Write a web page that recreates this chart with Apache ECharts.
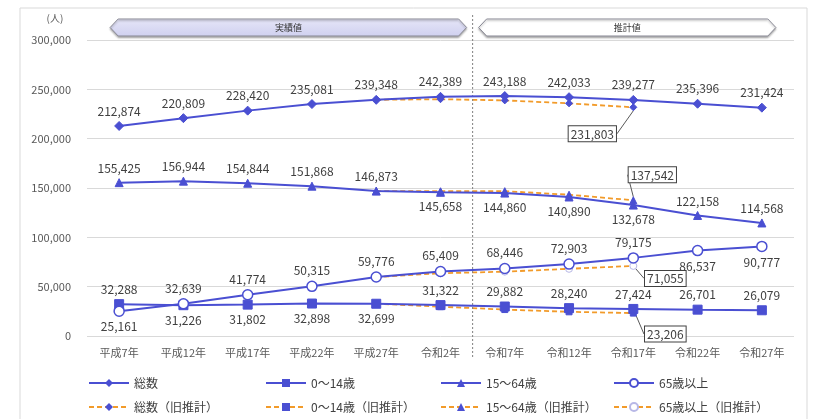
<!DOCTYPE html>
<html>
<head>
<meta charset="utf-8">
<script src="https://cdn.jsdelivr.net/npm/echarts@6/dist/echarts.min.js"></script>
<style>
html,body{margin:0;padding:0;background:#fff;}
#c{width:816px;height:419px;}
</style>
</head>
<body>
<div id="c"></div>
<script>
// ---- data ----
const categories = ['平成7年','平成12年','平成17年','平成22年','平成27年','令和2年','令和7年','令和12年','令和17年','令和22年','令和27年'];
const total    = [212874, 220809, 228420, 235081, 239348, 242389, 243188, 242033, 239277, 235396, 231424];
const age0_14  = [32288, 31226, 31802, 32898, 32699, 31322, 29882, 28240, 27424, 26701, 26079];
const age15_64 = [155425, 156944, 154844, 151868, 146873, 145658, 144860, 140890, 132678, 122158, 114568];
const age65    = [25161, 32639, 41774, 50315, 59776, 65409, 68446, 72903, 79175, 86537, 90777];
const totalOld    = [null, null, null, null, 239348, 240000, 238800, 235800, 231803, null, null];
const age0_14Old  = [null, null, null, null, 32699, 29700, 26800, 24500, 23206, null, null];
const age15_64Old = [null, null, null, null, 146873, 146700, 146800, 143200, 137542, null, null];
const age65Old    = [null, null, null, null, 59776, 63600, 65200, 68100, 71055, null, null];
const seriesNames = ['総数','0～14歳','15～64歳','65歳以上'];
const oldNames = ['総数（旧推計）','0～14歳（旧推計）','15～64歳（旧推計）','65歳以上（旧推計）'];
const yTicks = [0, 50000, 100000, 150000, 200000, 250000, 300000];
const bannerTexts = ['実績値','推計値'];

// label placement (indices whose label sits below the point)
const below = {
  total: [],
  age0_14: [1,2,3,4],
  age15_64: [5,6,7,8],
  age65: [0,9,10]
};

const BLUE = '#4a4fd2';
const ORANGE = '#f29b2a';
const TXT = '#404040';
const FONT = '"Noto Sans CJK JP","Noto Sans",sans-serif';
const fmt = v => Number(v).toLocaleString('en-US');

function mkData(arr, belowIdx){
  return arr.map((v,i)=>({
    value: v,
    label: belowIdx.indexOf(i) >= 0 ? {position:'bottom'} : {position:'top'}
  }));
}

function mainSeries(name, arr, belowIdx, symbol, size, extra){
  return Object.assign({
    name, type:'line', data: mkData(arr, belowIdx),
    symbol, symbolSize: size, z: 5,
    lineStyle:{color:BLUE, width:2},
    itemStyle:{color:BLUE, borderColor:BLUE},
    label:{show:true, formatter:p=>fmt(p.value), color:TXT, fontSize:12, fontFamily:FONT, distance:4},
    emphasis:{disabled:true},
    animation:false
  }, extra||{});
}

function oldSeries(name, arr, symbol, size, pos, dx, dy, itemStyle){
  return {
    name, type:'line', z: 3,
    data: arr.map((v,i)=> i===8 ? {value:v, label:{show:true}} : v),
    symbol, symbolSize:size,
    lineStyle:{color:ORANGE, width:1.8, type:[5,3]},
    itemStyle: itemStyle || {color:BLUE, borderColor:BLUE},
    label:{show:false, position:pos, formatter:p=>fmt(p.value), color:TXT, fontSize:12, fontFamily:FONT,
      borderColor:'#404040', borderWidth:1, backgroundColor:'#fff', padding:[1,2,0,2], lineHeight:14},
    labelLine:{show:true, lineStyle:{color:'#595959', width:1}},
    labelLayout: function(){ return {dx:dx, dy:dy}; },
    emphasis:{disabled:true},
    animation:false
  };
}

const chart = echarts.init(document.getElementById('c'));
function legendAt(left, names){
  return {
    left:left, top:375, orient:'vertical', width:180, height:60, padding:0,
    itemWidth:40, itemHeight:10, itemGap:8,
    textStyle:{color:TXT, fontSize:12, fontFamily:FONT, lineHeight:16},
    selectedMode:false, data:names
  };
}

chart.setOption({
  backgroundColor:'#fff',
  animation:false,
  textStyle:{fontFamily:FONT},
  grid:{left:87, right:22, top:40, bottom:83},
  xAxis:{
    type:'category', data:categories, boundaryGap:true,
    axisLine:{show:false}, axisTick:{show:false},
    axisLabel:{color:'#595959', fontSize:11, margin:11, fontFamily:FONT}
  },
  yAxis:{
    type:'value', min:yTicks[0], max:yTicks[yTicks.length-1], interval:yTicks[1]-yTicks[0],
    axisLine:{show:false}, axisTick:{show:false},
    splitLine:{lineStyle:{color:'#d9d9d9', width:1}},
    axisLabel:{color:'#595959', fontSize:11, margin:16, formatter:v=>fmt(v), fontFamily:FONT}
  },
  legend:[
    legendAt(88, [seriesNames[0], oldNames[0]]),
    legendAt(265, [seriesNames[1], oldNames[1]]),
    legendAt(440, [seriesNames[2], oldNames[2]]),
    legendAt(613, [seriesNames[3], oldNames[3]])
  ],
  series:[
    oldSeries(oldNames[0], totalOld, 'diamond', 7, 'bottom', -41, 10),
    oldSeries(oldNames[1], age0_14Old, 'rect', 6, 'bottom', 32, 5),
    oldSeries(oldNames[2], age15_64Old, 'triangle', 7, 'top', 19, -9),
    oldSeries(oldNames[3], age65Old, 'circle', 7, 'bottom', 32, -4, {color:'#fff', borderColor:'#b8b8e6', borderWidth:1}),
    mainSeries(seriesNames[0], total, below.total, 'diamond', 9),
    mainSeries(seriesNames[1], age0_14, below.age0_14, 'rect', 9),
    mainSeries(seriesNames[2], age15_64, below.age15_64, 'triangle', 8),
    mainSeries(seriesNames[3], age65, below.age65, 'circle', 10,
      {itemStyle:{color:'#fff', borderColor:BLUE, borderWidth:1.5}})
  ]
});

// decorations positioned from the axis
const cx = c => chart.convertToPixel({xAxisIndex:0}, c);
const xDiv = (cx(categories[5]) + cx(categories[6])) / 2;
const xStart = cx(categories[0]) - 9;
const xEnd = cx(categories[10]) + 14;
function banner(x0, x1, fill, text){
  const top = 19, bot = 36, mid = (top+bot)/2, tip = 8;
  return [{
    type:'polygon', z:10,
    shape:{points:[[x0,mid],[x0+tip,top],[x1-tip,top],[x1,mid],[x1-tip,bot],[x0+tip,bot]]},
    style:{fill:fill, stroke:'#8a8a96', lineWidth:1, shadowBlur:2, shadowOffsetY:1.5, shadowColor:'rgba(0,0,0,0.3)'}
  },{
    type:'text', z:11, x:(x0+x1)/2, y:mid,
    style:{text:text, fill:'#333', fontSize:9, fontFamily:FONT, align:'center', verticalAlign:'middle'}
  }];
}
chart.setOption({
  graphic:[
    {type:'rect', z:0, shape:{x:20, y:8, width:787, height:430}, style:{fill:'none', stroke:'#d9d9d9', lineWidth:1}},
    {type:'text', x:55, y:18, style:{text:'(人)', fill:'#595959', fontSize:10, fontFamily:FONT, align:'center', verticalAlign:'middle'}},
    {type:'line', z:4, shape:{x1:xDiv, y1:15, x2:xDiv, y2:358}, style:{stroke:'#7f7f7f', lineWidth:1, lineDash:[2,2]}},
    ...banner(xStart, xDiv-6, new echarts.graphic.LinearGradient(0,0,0,1,[{offset:0,color:'#e6e6f8'},{offset:1,color:'#cfd0ef'}]), bannerTexts[0]),
    ...banner(xDiv+6, xEnd, '#ffffff', bannerTexts[1])
  ]
});
</script>
</body>
</html>
